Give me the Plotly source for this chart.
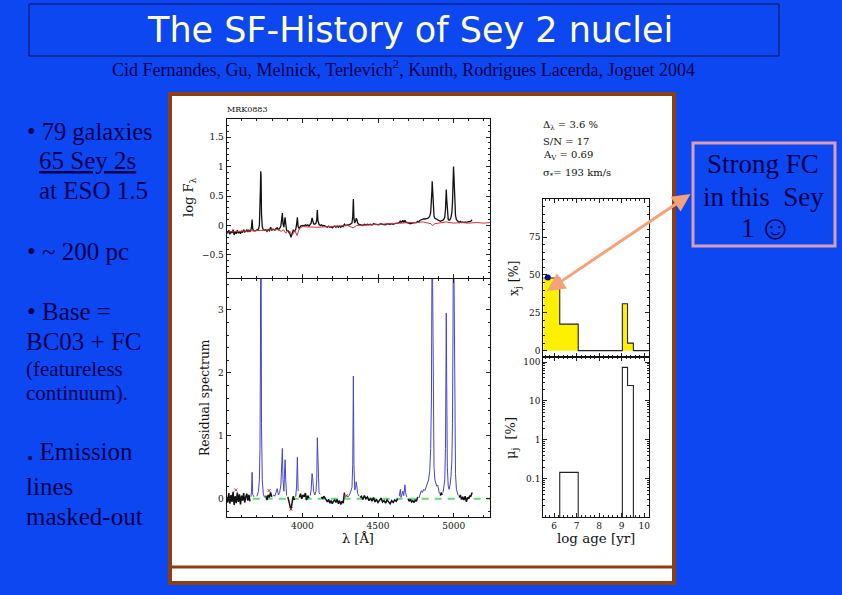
import numpy as np
import plotly.graph_objects as go

W, H = 842, 595

wave = [
    3500, 3507, 3514, 3521, 3528, 3535, 3542, 3549, 3556, 3563,
    3570, 3577, 3584, 3591, 3598, 3605, 3612, 3619, 3626, 3633,
    3640, 3647, 3654, 3660, 3664, 3668, 3672, 3680, 3690, 3700,
    3710, 3716, 3720, 3723, 3725, 3727, 3730, 3735, 3742, 3750,
    3758, 3766, 3774, 3782, 3790, 3798, 3806, 3812, 3818, 3826,
    3834, 3842, 3850, 3858, 3864, 3868, 3872, 3878, 3882, 3886,
    3890, 3896, 3904, 3912, 3918, 3925, 3932, 3940, 3948, 3956,
    3962, 3967, 3972, 3980, 3988, 3996, 4004, 4012, 4020, 4028,
    4036, 4044, 4052, 4058, 4064, 4068, 4074, 4082, 4090, 4095,
    4099, 4103, 4110, 4118, 4126, 4134, 4142, 4150, 4158, 4166,
    4174, 4182, 4190, 4198, 4206, 4214, 4222, 4230, 4238, 4246,
    4254, 4262, 4270, 4278, 4284, 4292, 4300, 4310, 4320, 4328,
    4333, 4337, 4341, 4346, 4352, 4356, 4360, 4366, 4374, 4382,
    4390, 4400, 4410, 4420, 4430, 4440, 4450, 4460, 4470, 4480,
    4490, 4500, 4510, 4520, 4530, 4540, 4550, 4560, 4570, 4580,
    4590, 4600, 4610, 4620, 4630, 4640, 4648, 4652, 4658, 4664,
    4670, 4675, 4678, 4682, 4690, 4698, 4706, 4714, 4722, 4730,
    4738, 4746, 4754, 4762, 4770, 4778, 4786, 4794, 4802, 4810,
    4818, 4826, 4834, 4842, 4848, 4853, 4856, 4858, 4861, 4865,
    4870, 4876, 4882, 4888, 4894, 4900, 4906, 4912, 4918, 4924,
    4930, 4936, 4941, 4946, 4949, 4951, 4954, 4958, 4964, 4970,
    4976, 4982, 4988, 4992, 4996, 4999, 5002, 5006, 5012, 5018,
    5024, 5030, 5036, 5044, 5052, 5060, 5068, 5076, 5084, 5092,
    5100, 5106, 5112, 5118, 5122,
]
log_flux = [
    -0.10, -0.13, -0.08, -0.15, -0.10, -0.13, -0.07, -0.16, -0.11, -0.14,
    -0.08, -0.13, -0.10, -0.14, -0.09, -0.12, -0.07, -0.11, -0.10, -0.07,
    -0.11, -0.08, -0.10, -0.08, -0.02, 0.10, -0.06, -0.09, -0.09, -0.08,
    -0.06, 0.00, 0.25, 0.65, 0.92, 0.85, 0.20, -0.02, -0.07, -0.08,
    -0.07, -0.10, -0.07, -0.09, -0.03, -0.08, -0.06, -0.07, -0.08, -0.05,
    -0.04, -0.07, -0.05, -0.01, 0.10, 0.21, 0.03, -0.03, 0.07, 0.14,
    0.03, -0.08, -0.09, -0.11, -0.14, -0.20, -0.14, -0.08, -0.10, -0.07,
    0.02, 0.14, -0.02, -0.05, -0.01, 0.00, 0.00, -0.01, 0.01, 0.00,
    0.01, -0.01, 0.01, 0.04, 0.13, 0.10, 0.03, 0.02, 0.04, 0.10,
    0.26, 0.08, 0.02, 0.00, 0.01, -0.01, 0.00, -0.01, -0.02, -0.03,
    -0.01, -0.03, -0.02, -0.04, -0.02, -0.01, -0.03, -0.01, -0.03, -0.01,
    -0.03, -0.01, -0.02, 0.02, 0.00, 0.01, 0.01, 0.01, 0.03, 0.04,
    0.15, 0.45, 0.12, 0.04, 0.08, 0.12, 0.10, 0.04, 0.02, 0.01,
    0.01, 0.00, 0.02, 0.01, 0.02, 0.01, 0.02, 0.01, 0.03, 0.02,
    0.02, 0.01, 0.02, 0.03, 0.02, 0.02, 0.01, 0.03, 0.02, 0.02,
    0.03, 0.02, 0.03, 0.03, 0.04, 0.05, 0.08, 0.05, 0.06, 0.09,
    0.05, 0.07, 0.09, 0.06, 0.05, 0.04, 0.04, 0.03, 0.04, 0.04,
    0.04, 0.05, 0.05, 0.07, 0.06, 0.09, 0.10, 0.10, 0.11, 0.11,
    0.11, 0.12, 0.13, 0.16, 0.22, 0.38, 0.58, 0.75, 0.55, 0.30,
    0.16, 0.12, 0.11, 0.10, 0.09, 0.08, 0.07, 0.07, 0.08, 0.08,
    0.09, 0.11, 0.14, 0.28, 0.45, 0.61, 0.45, 0.18, 0.10, 0.09,
    0.10, 0.14, 0.22, 0.38, 0.72, 1.00, 0.82, 0.40, 0.17, 0.10,
    0.08, 0.07, 0.05, 0.07, 0.05, 0.06, 0.05, 0.06, 0.05, 0.06,
    0.06, 0.07, 0.07, 0.09, 0.08,
]
residual = [
    0.03, -0.06, 0.09, -0.08, 0.06, -0.05, 0.11, -0.10, 0.04, -0.07,
    0.10, -0.05, 0.07, -0.09, 0.05, -0.03, 0.09, -0.06, 0.03, 0.08,
    -0.03, 0.06, -0.04, 0.03, 0.12, 0.42, 0.07, 0.03, 0.00, 0.04,
    0.12, 0.30, 0.80, 2.30, 5.00, 4.60, 1.20, 0.30, 0.08, 0.02,
    0.05, -0.02, 0.06, 0.02, 0.10, 0.03, 0.05, 0.06, 0.04, 0.10,
    0.16, 0.06, 0.10, 0.22, 0.55, 0.80, 0.30, 0.12, 0.40, 0.62,
    0.30, 0.05, 0.03, -0.04, -0.10, -0.18, -0.06, 0.04, -0.02, 0.03,
    0.20, 0.66, 0.12, 0.02, 0.08, 0.00, 0.06, 0.03, 0.09, -0.02,
    0.05, 0.01, 0.05, 0.14, 0.40, 0.34, 0.12, 0.06, 0.12, 0.30,
    0.97, 0.40, 0.10, 0.07, 0.03, 0.00, 0.04, 0.01, -0.03, -0.05,
    -0.01, -0.07, -0.03, -0.08, -0.04, -0.02, -0.06, -0.01, -0.08, -0.03,
    -0.09, -0.04, -0.07, 0.10, 0.02, 0.06, 0.03, 0.05, 0.12, 0.18,
    0.55, 1.95, 0.55, 0.14, 0.18, 0.27, 0.20, 0.08, 0.04, 0.02,
    0.04, -0.01, 0.05, 0.00, 0.03, -0.03, 0.01, -0.04, 0.02, -0.05,
    -0.01, -0.06, -0.03, 0.01, -0.05, -0.03, -0.07, -0.02, -0.05, -0.08,
    -0.03, -0.06, -0.02, -0.04, 0.00, 0.04, 0.15, 0.02, 0.08, 0.12,
    0.05, 0.12, 0.22, 0.10, 0.03, 0.00, -0.04, -0.01, -0.05, -0.03,
    -0.06, -0.02, -0.04, 0.03, 0.01, 0.07, 0.13, 0.10, 0.15, 0.13,
    0.18, 0.22, 0.30, 0.45, 0.80, 1.60, 3.00, 4.60, 3.40, 1.50,
    0.50, 0.30, 0.25, 0.20, 0.22, 0.15, 0.08, 0.05, 0.10, 0.06,
    0.10, 0.20, 0.30, 0.80, 1.80, 2.95, 1.80, 0.50, 0.20, 0.15,
    0.22, 0.35, 0.60, 1.20, 3.00, 4.80, 3.60, 1.20, 0.40, 0.15,
    0.10, 0.05, 0.02, 0.06, -0.01, 0.03, -0.02, 0.04, -0.05, 0.02,
    0.00, 0.05, 0.03, 0.09, 0.10,
]
masked_windows = [
    (3660, 3680), (3700, 3750), (3800, 3900), (3955, 3975), (4050, 4120),
    (4280, 4380), (4640, 4690), (4770, 4906), (4930, 5030),
]

model_wave = [3500, 3600, 3700, 3727, 3800, 3840, 3860, 3875, 3890, 3905,
              3925, 3935, 3950, 3965, 3980, 4000, 4100, 4200, 4300, 4335,
              4360, 4500, 4600, 4700, 4800, 4850, 4860, 4875, 4950, 5000,
              5050, 5100, 5150, 5200, 5240]
model_flux = [-0.11, -0.10, -0.09, -0.09, -0.08, -0.07, -0.10, -0.07, -0.13, -0.08,
              -0.12, -0.16, -0.08, -0.17, -0.05, -0.02, -0.03, -0.01, 0.00, -0.04,
              0.00, 0.02, 0.03, 0.05, 0.06, 0.03, 0.00, 0.03, 0.06, 0.04,
              0.05, 0.04, 0.05, 0.04, 0.05]

bad_wave = [3560, 3780, 3925, 4290]
bad_resid = [0.14, 0.13, -0.16, 0.05]

zero_wave = [3500, 5240]
zero_level = [0, 0]

wave_ticks = [4000, 4500, 5000]
xj_ticks = [0, 25, 50, 75]

xj_edges = [5.52, 6.25, 7.07, 9.03, 9.26, 9.52, 10.2]
xj_vals = [48, 17.5, 0, 31, 5, 0, 0]
fc_age = [5.72]
fc_xj = [48.3]

mu_edges = [6.25, 6.25, 7.07, 9.03, 9.26, 9.52]
mu_vals = [0.001, 0.146, 0.001, 73, 25, 0.001]

BLUE_BG = "#0D47F2"
NAVY = "#00004F"
BROWN = "#8B3F12"
INK = "#111111"
SERIF = "Liberation Serif"
FIG_FONT = "DejaVu Serif"


def xdom(a, b):
    return [a / W, b / W]


def ydom(top, bottom):
    return [1 - bottom / H, 1 - top / H]


def axis(domain, rng, major, minor, anchor, labels=True, kind="linear", vals=None):
    ax = dict(domain=domain, range=rng, anchor=anchor, showgrid=False, zeroline=False,
              showline=True, linecolor="#111111", linewidth=1.2, mirror="allticks",
              ticks="inside", ticklen=4, tickwidth=1, tickcolor="#222222",
              showticklabels=labels, type=kind,
              tickfont=dict(family=FIG_FONT, size=9, color=INK))
    if vals is not None:
        ax["tickvals"] = vals
    else:
        ax["dtick"] = major
    if kind == "linear":
        ax["tick0"] = 0
        ax["minor"] = dict(dtick=minor, tick0=0, ticks="inside", ticklen=2, tickcolor="#222222")
    else:
        ax["minor"] = dict(ticks="inside", ticklen=2, tickcolor="#222222")
    return ax


fig = go.Figure()

# spectrum, top left panel
fig.add_trace(go.Scatter(x=wave, y=log_flux, mode="lines", line=dict(color="#111111", width=1.3),
                         xaxis="x", yaxis="y"))
fig.add_trace(go.Scatter(x=model_wave, y=model_flux, mode="lines", line=dict(color="#D0303C", width=1),
                         xaxis="x", yaxis="y"))

# residuals, bottom left panel: black where fitted, blue where masked
w = np.array(wave, dtype=float)
r = np.array(residual, dtype=float)
mask = np.zeros(len(w), dtype=bool)
for lo, hi in masked_windows:
    mask |= (w >= lo) & (w <= hi)
fig.add_trace(go.Scatter(x=zero_wave, y=zero_level, mode="lines",
                         line=dict(color="#5FE070", width=2, dash="7px,6px"),
                         xaxis="x2", yaxis="y2"))
fig.add_trace(go.Scatter(x=wave, y=np.where(mask, np.nan, r), mode="lines",
                         line=dict(color="#111111", width=1.5), xaxis="x2", yaxis="y2"))
fig.add_trace(go.Scatter(x=wave, y=np.where(mask, r, np.nan), mode="lines",
                         line=dict(color="#4444CC", width=1), xaxis="x2", yaxis="y2"))
fig.add_trace(go.Scatter(x=bad_wave, y=bad_resid, mode="markers",
                         marker=dict(symbol="x-thin", size=3, line=dict(color="#D03030", width=1)),
                         xaxis="x2", yaxis="y2"))

# population vector, right panels
fig.add_trace(go.Scatter(x=xj_edges, y=xj_vals, mode="lines", fill="tozeroy", fillcolor="#FFF000",
                         line=dict(color="#222222", width=1.1, shape="hv"), xaxis="x3", yaxis="y3"))
fig.add_trace(go.Scatter(x=fc_age, y=fc_xj, mode="markers", marker=dict(color="#0A0A9A", size=6),
                         xaxis="x3", yaxis="y3"))
fig.add_trace(go.Scatter(x=mu_edges, y=mu_vals, mode="lines",
                         line=dict(color="#222222", width=1.1, shape="hv"), xaxis="x4", yaxis="y4"))

shapes = [
    dict(type="rect", xref="paper", yref="paper", x0=170 / W, x1=674 / W, y0=1 - 583 / H, y1=1 - 94 / H,
         fillcolor="white", line=dict(color=BROWN, width=4), layer="below"),
    dict(type="line", xref="paper", yref="paper", x0=170 / W, x1=674 / W, y0=1 - 567 / H, y1=1 - 567 / H,
         line=dict(color=BROWN, width=3), layer="below"),
    dict(type="rect", xref="paper", yref="paper", x0=29 / W, x1=779 / W, y0=1 - 56 / H, y1=1 - 4 / H,
         line=dict(color="#10105A", width=1), layer="below"),
    dict(type="rect", xref="paper", yref="paper", x0=693 / W, x1=835 / W, y0=1 - 246 / H, y1=1 - 143 / H,
         line=dict(color="#D9A0B4", width=3), layer="above"),
]


def label(px, py, text, size, color=NAVY, family=SERIF, anchor="left", angle=0):
    return dict(xref="paper", yref="paper", x=px / W, y=1 - py / H, text=text, showarrow=False,
                xanchor=anchor, yanchor="middle", textangle=angle,
                font=dict(family=family, size=size, color=color))


annotations = [
    label(410, 30, "The SF-History of Sey 2 nuclei", 35, color="#FFFFC4", family="DejaVu Sans", anchor="center"),
    label(403, 68, "Cid Fernandes, Gu, Melnick, Terlevich<sup>2</sup>, Kunth, Rodrigues Lacerda, Joguet 2004",
          18, anchor="center"),
    label(25, 131, "• 79 galaxies", 24.5),
    label(37, 161, "<u>65 Sey 2s</u>", 25),
    label(37, 191, "at ESO 1.5", 25),
    label(25, 251, "• ~ 200 pc", 25),
    label(25, 311, "• Base =", 25),
    label(24, 341, "BC03 + FC", 25),
    label(24, 369, "(featureless", 21),
    label(24, 393, "continuum).", 21),
    label(25, 451, "<b>.</b> Emission", 25),
    label(24, 486, "lines", 25),
    label(24, 516, "masked-out", 25),
    label(763, 164, "Strong FC", 27, anchor="center"),
    label(763, 197, "in this  Sey", 27, anchor="center"),
    label(748, 228, "1", 27, anchor="center"),
    label(775, 227, "☺", 34, anchor="center"),
    label(225, 109, "MRK0883", 8, color=INK, family=FIG_FONT),
    label(541, 125, "Δ<sub>λ</sub> = 3.6 %", 10, color=INK, family=FIG_FONT),
    label(541, 141, "S/N = 17", 10, color=INK, family=FIG_FONT),
    label(541, 156, "A<sub>V</sub> = 0.69", 10, color=INK, family=FIG_FONT),
    label(541, 173, "σ<sub>*</sub>= 193 km/s", 10, color=INK, family=FIG_FONT),
    label(190, 198, "log F<sub>λ</sub>", 13, color=INK, family=FIG_FONT, anchor="center", angle=-90),
    label(205, 398, "Residual spectrum", 12.3, color=INK, family=FIG_FONT, anchor="center", angle=-90),
    label(358, 538, "λ [Å]", 13, color=INK, family=FIG_FONT, anchor="center"),
    label(514, 279, "x<sub>j</sub>\u00a0[%]", 12.5, color=INK, family=FIG_FONT, anchor="center", angle=-90),
    label(511, 438, "μ<sub>j</sub>\u00a0\u00a0[%]", 13, color=INK, family=FIG_FONT, anchor="center", angle=-90),
    label(596, 538, "log age [yr]", 13.4, color=INK, family=FIG_FONT, anchor="center"),
    dict(xref="paper", yref="paper", x=547 / W, y=1 - 291 / H, ax=145, ay=-98, text="", showarrow=True,
         arrowside="end+start", arrowhead=2, arrowsize=1.2, arrowwidth=3, arrowcolor="#F4A27A"),
]

fig.update_layout(
    width=W, height=H, margin=dict(l=0, r=0, t=0, b=0, pad=0, autoexpand=False), autosize=False,
    paper_bgcolor=BLUE_BG, plot_bgcolor="rgba(0,0,0,0)", showlegend=False,
    xaxis=axis(xdom(226.7, 490), [3500, 5240], 500, 100, "y", labels=False, vals=wave_ticks),
    yaxis=axis(ydom(119.3, 278), [-0.89, 1.8], 0.5, 0.1, "x"),
    xaxis2=axis(xdom(226.7, 490), [3500, 5240], 500, 100, "y2", vals=wave_ticks),
    yaxis2=axis(ydom(278.5, 517), [-0.29, 3.5], 1, 0.2, "x2"),
    xaxis3=axis(xdom(543.3, 648.7), [5.52, 10.2], 1, 0.2, "y3", labels=False),
    yaxis3=axis(ydom(199.3, 356.7), [-4, 100], 25, 5, "x3", vals=xj_ticks),
    xaxis4=axis(xdom(543.3, 648.7), [5.52, 10.2], 1, 0.2, "y4"),
    yaxis4=axis(ydom(357, 517.3), [-1.99, 2.13], 1, None, "x4", kind="log"),
    shapes=shapes, annotations=annotations,
)

fig.write_html("out.html", config={"displayModeBar": False}, post_script="document.body.style.margin='0';")
